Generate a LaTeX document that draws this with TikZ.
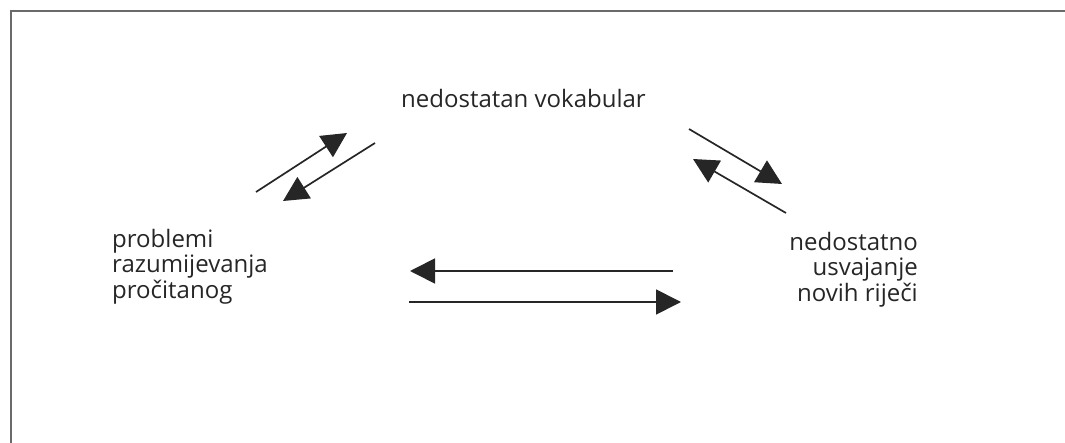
\documentclass[tikz,border=0pt]{standalone}
\usepackage{fontspec}
\setmainfont{Open Sans}
\usetikzlibrary{arrows.meta}
\definecolor{txt}{HTML}{262626}
\definecolor{ln}{HTML}{262626}
\definecolor{frame}{HTML}{6A6A6A}
\tikzset{
  lbl/.style={inner sep=0pt, text=txt, font=\fontsize{24}{25.5}\selectfont},
  conn/.style={draw=ln, line width=1.7pt, -{Triangle[length=25pt,width=25pt]}},
}
\begin{document}
\begin{tikzpicture}[x=1pt,y=-1pt]
\useasboundingbox (0,0) rectangle (1065,443);
\draw[frame, line width=2pt] (11,443) -- (11,11) -- (1065,11);
\node[lbl, anchor=base west] (vocab) at (401,108) {nedostatan vokabular};
\node[lbl, anchor=north west, align=left] (probl) at (112,229) {problemi\\razumijevanja\\pročitanog};
\node[lbl, anchor=north east, align=right] (usv) at (918,232) {nedostatno\\usvajanje\\novih riječi};
% coordinates
\coordinate (a1) at (256,192); \coordinate (a2) at (347,133);
\coordinate (b1) at (375,143); \coordinate (b2) at (283,201);
\coordinate (c1) at (689,129); \coordinate (c2) at (782,184);
\coordinate (d1) at (786,213); \coordinate (d2) at (693,159);
\coordinate (e1) at (673,271); \coordinate (e2) at (410,271);
\coordinate (f1) at (409,302); \coordinate (f2) at (681,302);
\draw[conn] (a1) -- (a2);
\draw[conn] (b1) -- (b2);
\draw[conn] (c1) -- (c2);
\draw[conn] (d1) -- (d2);
\draw[conn] (e1) -- (e2);
\draw[conn] (f1) -- (f2);
\end{tikzpicture}
\end{document}
